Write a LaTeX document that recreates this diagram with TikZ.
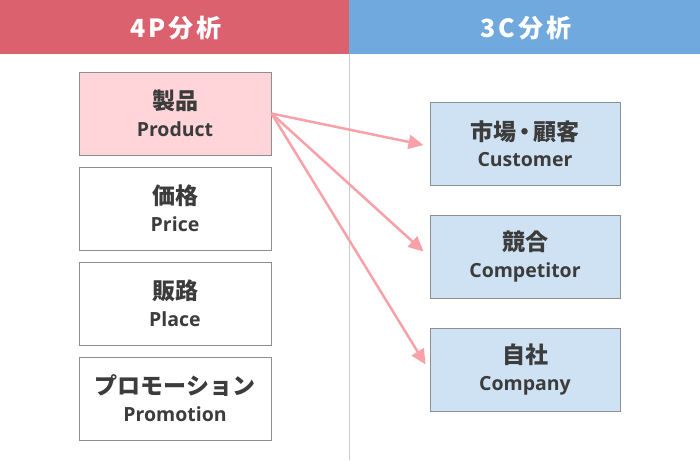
\documentclass[tikz,border=0pt]{standalone}
\usepackage{fontspec}
\usetikzlibrary{arrows.meta}
\newfontfamily\jpfont{Noto Sans CJK JP}
\newfontfamily\enfont{Open Sans}
\newfontfamily\titlefont{Noto Sans CJK JP}[LetterSpace=12]
\newcommand\jpt{\jpfont\bfseries\fontsize{23}{25}\selectfont}
\newcommand\ent{\enfont\bfseries\fontsize{19.5}{22}\selectfont}
\definecolor{rougetete}{HTML}{DB616F}
\definecolor{bleutete}{HTML}{6FA9DD}
\definecolor{roseclair}{HTML}{FFD5DA}
\definecolor{bleuclair}{HTML}{CFE2F3}
\definecolor{rose}{HTML}{F8A1A9}
\definecolor{bordgris}{HTML}{8E8E8E}
\definecolor{lignegris}{HTML}{CCCCCC}
\definecolor{texte}{HTML}{3C3C3C}

\begin{document}
\begin{tikzpicture}[x=1pt,y=-1pt]
% Styles
 \tikzstyle{entete}=[text=white,font=\titlefont\bfseries\fontsize{25}{26}\selectfont]
 \tikzstyle{boite}=[rectangle,draw=bordgris,line width=1pt,align=center,text=texte,minimum height=83pt,inner sep=0pt]
 \tikzstyle{quatrep}=[boite,fill=white,minimum width=192pt]
 \tikzstyle{troisc}=[boite,fill=bleuclair,minimum width=190pt]
 \tikzstyle{fleche}=[-{Triangle[length=15pt,width=14pt]},line width=2.5pt,draw=rose]
 \useasboundingbox (0,0) rectangle (700,460);
% Bandeau
 \fill[rougetete] (0,0) rectangle (349,54);
 \fill[bleutete] (349,0) rectangle (700,54);
 \node[entete] (t4p) at (176,28) {4P分析};
 \node[entete] (t3c) at (526,28) {3C分析};
 \draw[lignegris,line width=1.5pt] (349.5,54) -- (349.5,460);
% 4P
 \node[quatrep,fill=roseclair] (prod) at (175,113.5) {\jpt 製品\\[9pt]\ent Product};
 \node[quatrep] (prix) at (175,208.5) {\jpt 価格\\[9pt]\ent Price};
 \node[quatrep] (place) at (175,303.5) {\jpt 販路\\[9pt]\ent Place};
 \node[quatrep] (promo) at (175,398.5) {\jpt プロモーション\\[9pt]\ent Promotion};
% 3C
 \node[troisc] (client) at (525,143.5) {\jpt 市場{\kern-3pt}・{\kern-3pt}顧客\\[9pt]\ent Customer};
 \node[troisc] (concur) at (525,256.5) {\jpt 競合\\[9pt]\ent Competitor};
 \node[troisc] (societe) at (525,369.5) {\jpt 自社\\[9pt]\ent Company};
% Fleches
 \draw[fleche] (prod.east) -- ([xshift=-6pt,yshift=-1.5pt]client.west);
 \draw[fleche] (prod.east) -- ([xshift=-6pt,yshift=5pt]concur.west);
 \draw[fleche] (prod.east) -- ([xshift=-4pt,yshift=5pt]societe.west);
\end{tikzpicture}
\end{document}
